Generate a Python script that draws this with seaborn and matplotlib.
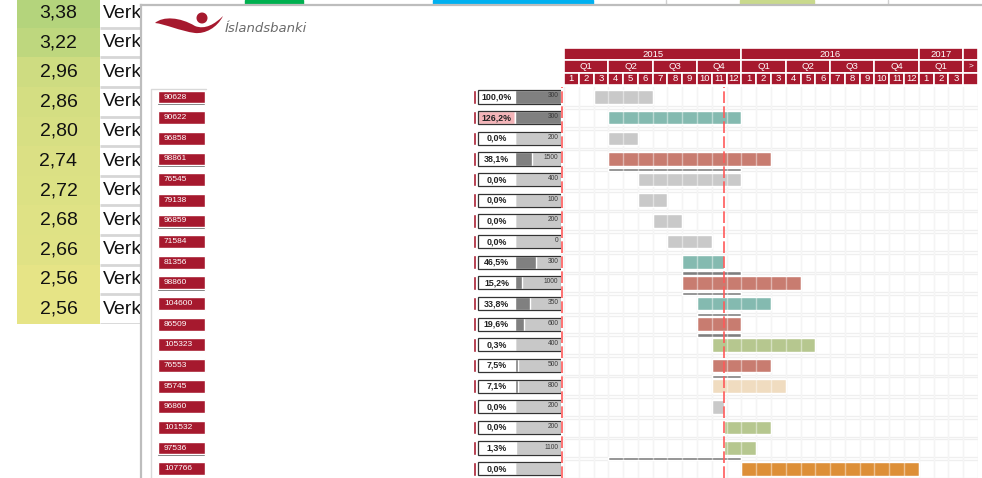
import numpy as np
import matplotlib.pyplot as plt
from matplotlib.colors import LinearSegmentedColormap
from matplotlib.path import Path
from matplotlib.patches import PathPatch, Circle
import seaborn as sns

sns.set_style('white')
plt.rcParams['font.family'] = ['Liberation Sans', 'DejaVu Sans']

# ------------------------------------------------------------
# gögn
# ------------------------------------------------------------
# excel sheet behind the dialog
score_values = [3.38, 3.22, 2.96, 2.86, 2.80, 2.74, 2.72, 2.68, 2.66, 2.56, 2.56]
score_text = ['Verk'] * len(score_values)

# project list
project_ids = ['90628', '90622', '96858', '98861', '76545', '79138', '96859', '71584',
               '81356', '98860', '104600', '86509', '105323', '76553', '95745', '96860',
               '101532', '97536', '107766']
progress_pct = [100.0, 126.2, 0.0, 38.1, 0.0, 0.0, 0.0, 0.0, 46.5, 15.2, 33.8, 19.6,
                0.3, 7.5, 7.1, 0.0, 0.0, 1.3, 0.0]
budget_labels = ['300', '300', '200', '1500', '400', '100', '200', '0', '300', '1000',
                 '350', '600', '400', '500', '800', '200', '200', '1100', '']

# gantt, months counted from jan 2015 (0 = jan 2015)
task_start = [2, 3, 3, 3, 5, 5, 6, 7, 8, 8, 9, 9, 10, 10, 10, 10, 10.85, 10.85, 12]
task_length = [4, 9, 2, 11, 7, 2, 2, 3, 2.85, 8, 5, 3, 7, 4, 5, 0.85, 3.15, 2.15, 12]
task_state = ['lokið', 'virkt', 'lokið', 'seint', 'lokið', 'lokið', 'lokið', 'lokið',
              'virkt', 'seint', 'virkt', 'seint', 'nýtt', 'seint', 'áætlað', 'lokið',
              'nýtt', 'nýtt', 'framtíð']
baseline_rows = [3, 8, 9, 10, 11, 13, 17]
baseline_start = [3, 8, 8, 9, 9, 10, 3]
baseline_end = [12, 12, 12, 12, 12, 12, 12]
today_month = 10.85

year_labels = ['2015', '2016', '2017']
year_lengths = [12, 12, 3]
quarter_labels = ['Q1', 'Q2', 'Q3', 'Q4', 'Q1', 'Q2', 'Q3', 'Q4', 'Q1']
month_labels = [str(m) for m in range(1, 13)] * 2 + ['1', '2', '3']

state_colours = {'lokið': '#c9c9c9', 'virkt': '#84bab0', 'seint': '#c87c70',
                 'nýtt': '#b6c78f', 'áætlað': '#f0dcc0', 'framtíð': '#dd8f37'}
RED = '#a6192e'

# ------------------------------------------------------------
W, H = 982, 478
fig = plt.figure(figsize=(W / 100, H / 100), dpi=100)


def px_axes(x0, y0, x1, y1):
    ax = fig.add_axes([x0 / W, 1 - y1 / H, (x1 - x0) / W, (y1 - y0) / H])
    return ax


# --- excel cells in the background ---
xl_top, xl_row = -1.8, 29.6
xl_bottom = xl_top + xl_row * len(score_values)
ax_xl = px_axes(17, xl_top, 100, xl_bottom)
cmap = LinearSegmentedColormap.from_list('xl', ['#e6e486', '#b4d47c'])
sns.heatmap(np.array(score_values).reshape(-1, 1), ax=ax_xl, cmap=cmap, vmin=2.56, vmax=3.38,
            annot=np.array([f'{v:.2f}'.replace('.', ',') for v in score_values]).reshape(-1, 1),
            fmt='', cbar=False, xticklabels=False, yticklabels=False, linewidths=0,
            annot_kws={'fontsize': 14, 'color': '#111111'})

ax_verk = px_axes(100, xl_top, 160, xl_bottom)
ax_verk.set_xlim(0, 1)
ax_verk.set_ylim(len(score_values), 0)
for i, t in enumerate(score_text):
    ax_verk.text(0.05, i + 0.5, t, fontsize=14, va='center', color='#111111')
ax_verk.hlines(np.arange(len(score_values) + 1), 0, 1, color='#d6d6d6', lw=2)
ax_verk.axis('off')

# coloured cells peeking above the dialog
ax_top = px_axes(141, 0, 982, 5)
ax_top.set_xlim(141, 982)
ax_top.set_ylim(1, 0)
ax_top.axvspan(245, 303, color='#00b050')
ax_top.axvspan(433, 593, color='#00b0f0')
ax_top.axvspan(740, 814, color='#c9d98c')
ax_top.axvline(666, color='#d0d0d0', lw=1)
ax_top.axvline(888, color='#d0d0d0', lw=1)
ax_top.axis('off')

# --- dialog window ---
ax_ov = px_axes(141, 5, 990, 485)
ax_ov.set_xlim(141, 990)
ax_ov.set_ylim(485, 5)
ax_ov.set_facecolor('white')
ax_ov.set_xticks([])
ax_ov.set_yticks([])
for s in ['right', 'bottom']:
    ax_ov.spines[s].set_visible(False)
for s in ['left', 'top']:
    ax_ov.spines[s].set_color('#bdbdbd')
    ax_ov.spines[s].set_linewidth(1.6)

# logo
verts = [(155, 23), (163, 16), (180, 17), (195, 26),
         (205, 30), (215, 24), (223, 16),
         (217, 28), (205, 34), (195, 33),
         (180, 31), (165, 24), (155, 23), (155, 23)]
codes = [Path.MOVETO] + [Path.CURVE4] * 12 + [Path.CLOSEPOLY]
ax_ov.add_patch(PathPatch(Path(verts, codes), facecolor=RED, edgecolor='none'))
ax_ov.add_patch(Circle((202, 18), 4.8, color=RED))
ax_ov.text(225, 32.5, 'Íslandsbanki', family='DejaVu Sans', style='italic', fontsize=9.5,
           color='#6a6a6a', va='baseline')

# frame round the list
ax_ov.plot([151, 151, 206], [478, 89, 89], color='#d9d9d9', lw=1)

# --- project rows ---
n_rows = len(project_ids)
row_top, row_h = 86.7, 20.65
row_last = (478 - row_top) / row_h - 0.5
rows = np.arange(n_rows)

ax_r = px_axes(141, row_top, 561, 478)
ax_r.set_xlim(141, 561)
ax_r.set_ylim(row_last, -0.5)
ax_r.patch.set_alpha(0)
ax_r.axis('off')

ax_r.barh(rows + 0.03, 48, left=156.5, height=0.68, color='#4a4a4a')
ax_r.barh(rows, 46.5, left=158, height=0.62, color=RED)
for i, pid in enumerate(project_ids):
    ax_r.text(164, i, pid, color='white', fontsize=6, va='center')

pct = np.array(progress_pct)
ax_r.barh(rows, 3.5, left=472.5, height=0.66, color=RED)
ax_r.barh(rows, 37, left=478, height=0.64,
          color=['#f4b4b8' if p > 100 else 'white' for p in pct])
ax_r.barh(rows, 45.5, left=515, height=0.64, color='#c8c8c8')
ax_r.barh(rows, 45.5 * np.minimum(pct, 100) / 100, left=515, height=0.64, color='#808080')
ax_r.barh(rows, 82.5, left=478, height=0.64, fill=False, edgecolor='#333333', lw=0.9)
for i, (p, b) in enumerate(zip(pct, budget_labels)):
    ax_r.text(496.5, i, f'{p:.1f}%'.replace('.', ','), fontsize=6.4, fontweight='bold',
              ha='center', va='center', color='#222222')
    ax_r.text(558.5, i - 0.05, b, fontsize=4.8, ha='right', va='center', color='#3a3a3a')

# --- gantt ---
n_cols = sum(year_lengths) + 1
ax_g = px_axes(561, row_top, 978, 478)
ax_g.set_xlim(-0.2, n_cols)
ax_g.set_ylim(row_last, -0.5)
ax_g.patch.set_alpha(0)
ax_g.axis('off')
for m in range(n_cols + 1):
    ax_g.axvline(m, color='#ebebeb', lw=1, zorder=0)
for i in range(n_rows):
    ax_g.axhline(i + 0.45, color='#efefef', lw=0.9, zorder=0)
    ax_g.axhline(i + 0.58, color='#efefef', lw=0.9, zorder=0)

ax_g.barh(rows, task_length, left=task_start, height=0.66,
          color=[state_colours[s] for s in task_state], zorder=2)
ax_g.barh(np.array(baseline_rows) + 0.52, np.array(baseline_end) - np.array(baseline_start),
          left=baseline_start, height=0.16, color='#7f7f7f', zorder=2)
for m in range(n_cols + 1):
    ax_g.axvline(m, color='white', alpha=0.45, lw=1, zorder=3)

ax_g.axvline(today_month, color='#ff5a5a', lw=1.2, ls=(0, (7, 2)), zorder=4)
ax_g.axvline(-0.15, color='#ff5a5a', lw=1.2, ls=(0, (7, 2)), zorder=4)

# --- header ---
ax_h = px_axes(561, 48, 978, 85)
ax_h.set_xlim(-0.2, n_cols)
ax_h.set_ylim(3, 0)
ax_h.axis('off')

year_starts = np.concatenate([[0], np.cumsum(year_lengths)[:-1]])
ax_h.barh([0.5] * (len(year_labels) + 1), list(year_lengths) + [1],
          left=list(year_starts) + [n_cols - 1], height=1, color=RED,
          edgecolor='white', lw=1.2)
for lab, s, l in zip(year_labels, year_starts, year_lengths):
    ax_h.text(s + l / 2, 0.5, lab, color='white', fontsize=6.8, ha='center', va='center')

q_starts = np.arange(len(quarter_labels)) * 3
ax_h.barh([1.5] * (len(quarter_labels) + 1), [3] * len(quarter_labels) + [1],
          left=list(q_starts) + [n_cols - 1], height=1, color=RED,
          edgecolor='white', lw=1.2)
for lab, s in zip(quarter_labels, q_starts):
    ax_h.text(s + 1.5, 1.5, lab, color='white', fontsize=6.8, ha='center', va='center')
ax_h.text(n_cols - 0.5, 1.5, '>', color='white', fontsize=6, ha='center', va='center')

m_starts = np.arange(len(month_labels) + 1)
ax_h.barh([2.5] * len(m_starts), 1, left=m_starts, height=1, color=RED,
          edgecolor='white', lw=1.2)
for lab, s in zip(month_labels, m_starts):
    ax_h.text(s + 0.5, 2.5, lab, color='white', fontsize=6.8, ha='center', va='center')

fig.savefig('out.png', dpi=100)
